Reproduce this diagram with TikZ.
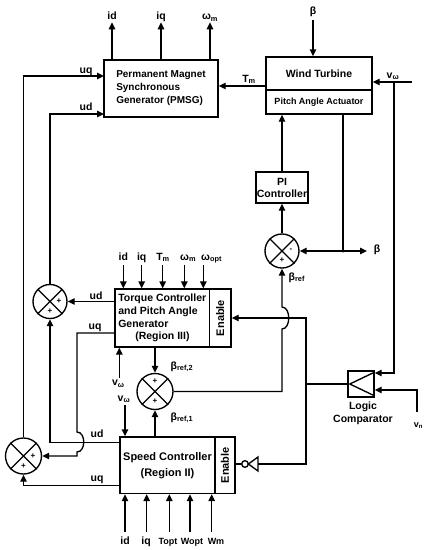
\documentclass[tikz,border=0pt]{standalone}
\usepackage{fontspec}
\setmainfont{Liberation Sans}
\usetikzlibrary{arrows.meta,calc}
\newcommand{\fsz}[2]{\fontsize{#1}{#2}\selectfont}
\begin{document}
\begin{tikzpicture}[x=1pt,y=-1pt,line width=1.35pt,
  blk/.style={draw,line width=1.35pt,inner sep=0pt,anchor=center},
  arr/.style={-{Triangle[length=7pt,width=6.5pt]}},
  sumn/.style={draw,circle,line width=1.35pt,minimum size=34pt,inner sep=0pt},
  lbl/.style={font=\bfseries\fsz{10.5}{12},inner sep=0pt,anchor=base},
  smalllbl/.style={font=\bfseries\fsz{9}{11},inner sep=0pt,anchor=base},
  sgn/.style={font=\bfseries\fsz{8}{8},inner sep=0pt}]
\useasboundingbox (0,0) rectangle (429,550);

% ---------- blocks ----------
\node[blk,minimum width=114pt,minimum height=57pt,align=left,font=\bfseries\fsz{10}{13}] (pmsg) at (161,88.5) {Permanent Magnet\\Synchronous\\Generator (PMSG)};
\node[blk,minimum width=106pt,minimum height=33pt,font=\bfseries\fsz{10.5}{12}] (wt) at (319,73.5) {Wind Turbine};
\node[blk,minimum width=106pt,minimum height=24pt,font=\bfseries\fsz{9}{11}] (pa) at (319,102) {Pitch Angle Actuator};
\node[blk,minimum width=52pt,minimum height=31pt,align=center,font=\bfseries\fsz{10.5}{12}] (pi) at (282,187.5) {PI\\Controller};
\node[sumn] (sp) at (282,251) {};
\node[blk,minimum width=94.5pt,minimum height=58pt,align=left,font=\bfseries\fsz{10.5}{12.8}] (tc) at (162.25,318) {Torque Controller\\and Pitch Angle\\Generator\\\hspace*{17pt}(Region III)};
\node[blk,minimum width=21.5pt,minimum height=58pt,font=\bfseries\fsz{11}{12}] (tcen) at (220.25,318) {\rotatebox{90}{Enable}};
\node[blk,minimum width=95pt,minimum height=56.5pt,align=center,font=\bfseries\fsz{11}{16}] (sc) at (167.5,465.25) {Speed Controller\\(Region II)};
\node[blk,minimum width=20pt,minimum height=56.5pt,font=\bfseries\fsz{11}{12}] (scen) at (225,465.25) {\rotatebox{90}{Enable}};
\node[sumn] (su) at (50,301.5) {};
\node[sumn,minimum size=36pt] (sl) at (23.5,456) {};
\node[sumn,minimum size=36pt] (sm) at (155,391.5) {};
\node[blk,minimum width=26pt,minimum height=26pt] (lc) at (361,384) {};
\node[align=center,font=\bfseries\fsz{10.5}{13},inner sep=0pt] (lcl) at (363,413) {Logic\\Comparator};

% crosses in summing junctions
\foreach \s in {sp,su,sl,sm}{
  \draw (\s.north west) -- (\s.south east) (\s.north east) -- (\s.south west);
}
\node[sgn] (sp1) at ($(sp)+(9,-0.5)$) {-};
\node[sgn] (sp2) at ($(sp)+(0,9.5)$) {+};
\node[sgn] (su1) at ($(su)+(9,0)$) {+};
\node[sgn] (su2) at ($(su)+(0,9.5)$) {+};
\node[sgn] (sl1) at ($(sl)+(9.5,0)$) {+};
\node[sgn] (sl2) at ($(sl)+(0,10)$) {+};
\node[sgn] (sm1) at ($(sm)+(0,-10)$) {+};
\node[sgn] (sm2) at ($(sm)+(0,10)$) {+};

% comparator symbol
\draw ($(lc.north east)+(-1.5,2.5)$) -- ($(lc.west)+(2.5,0)$) -- ($(lc.south east)+(-1.5,-2.5)$);

% ---------- PMSG outputs ----------
\node[lbl] (oid) at (112,19.5) {id};
\node[lbl] (oiq) at (161,19.5) {iq};
\node[lbl] (owm) at (210,19.5) {ω\textsubscript{m}};
\draw[arr] (pmsg.north -| oid) -- ++(0,-37);
\draw[arr] (pmsg.north -| oiq) -- ++(0,-37);
\draw[arr] (pmsg.north -| owm) -- ++(0,-37);

% ---------- wind turbine ----------
\node[lbl] (btop) at (313,14) {β};
\coordinate (bst) at (313,20);
\draw[arr] (bst) -- (wt.north -| bst);
\node[lbl] (ltm) at (249,82) {T\textsubscript{m}};
\coordinate (tmc) at (266,86);
\draw[arr] (tmc) -- (pmsg.east |- tmc);
\node[lbl] (lvw) at (393,78) {v\textsubscript{ω}};
\coordinate (vwin) at (412,82);
\coordinate (vwj) at (394,82);
\coordinate (lcin1) at (394,373);
\draw[arr] (vwin) -- (wt.east |- vwin);
\draw[arr] (vwj) -- (lcin1) -- (lc.east |- lcin1);
\coordinate (vnin) at (417,412);
\coordinate (lcin2) at (417,390);
\draw[arr] (vnin) -- (lcin2) -- (lc.east |- lcin2);
\node[smalllbl] (lvn) at (418.5,427) {v\textsubscript{n}};

% ---------- pitch loop ----------
\draw[arr] (pi.north) -- (pa.south -| pi.north);
\draw[arr] (sp.north) -- (pi.south);
\coordinate (bj) at (343,251);
\coordinate (bout) at (367,251);
\draw (pa.south -| bj) -- (bj);
\fill (bj) circle (1.6);
\draw[arr] (bj) -- (sp.east);
\draw[arr] (bj) -- (bout);
\node[lbl] (lbr) at (377,252.5) {β};
\node[lbl,anchor=base west] (lbref) at (288,280) {β\textsubscript{ref}};

% ---------- torque controller inputs ----------
\node[lbl] (tid) at (123.3,260) {id};
\node[lbl] (tiq) at (141.7,260) {iq};
\node[lbl] (ttm) at (163,260) {T\textsubscript{m}};
\node[lbl,anchor=base west] (twm) at (179.5,260) {ω\textsubscript{m}};
\node[lbl,anchor=base west] (two) at (200.5,260) {ω\textsubscript{opt}};
\foreach \x [count=\i] in {123.3,141.7,162.7,184.3,203.3}{
  \coordinate (ti\i) at (\x,265);
  \draw[arr] (ti\i) -- (ti\i |- tc.north);
}

% ---------- torque controller outputs ----------
\draw[arr] (tc.west |- su) -- (su.east);
\node[lbl] (ltud) at (96,299) {ud};
\coordinate (uqb) at (77,333);
\draw[arr] (tc.west |- uqb) -- (uqb) -- (77,432) .. controls (86,432) and (86,452) .. (77,452) -- (77,456) -- (sl.east);
\node[lbl] (ltuq) at (95,329) {uq};

% summing junctions to PMSG
\coordinate (pud) at (104,114);
\coordinate (puq) at (104,76);
\draw[arr] (su.north) -- (su.north |- pud) -- (pud);
\node[lbl] (lpud) at (86,110) {ud};
\draw[arr] (sl.north) -- (sl.north |- puq) -- (puq);
\node[lbl] (lpuq) at (86,73.5) {uq};

% ---------- wind speed inputs ----------
\coordinate (v1) at (119.3,378);
\draw[arr] (v1) -- (v1 |- tc.south);
\node[lbl] (lv1) at (118.3,385.5) {v\textsubscript{ω}};
\coordinate (v2) at (125,405);
\draw[arr] (v2) -- (v2 |- sc.north);
\node[lbl] (lv2) at (124,401) {v\textsubscript{ω}};

% ---------- beta references ----------
\draw[arr] (tc.south -| sm) -- (sm.north);
\draw[arr] (sc.north -| sm) -- (sm.south);
\node[lbl,anchor=base west] (lb2) at (170,369) {β\textsubscript{ref,2}};
\node[lbl,anchor=base west] (lb1) at (170,420) {β\textsubscript{ref,1}};
\draw[arr] (sm.east) -- (282,391.5) -- (282,329) .. controls (291,329) and (291,307) .. (282,307) -- (sp.south);

% ---------- enable logic ----------
\coordinate (jn) at (306,384);
\coordinate (notin) at (258,464);
\draw[arr] (lc.west) -- (jn) |- (tcen.east);
\draw (jn) |- (notin);
\draw (258,457) -- (258,471) -- (248.4,464) -- cycle;
\node[circle,draw,minimum size=6.6pt,inner sep=0pt] (bub) at (245,464) {};
\draw (bub.west) -- (bub.west -| scen.east);

% ---------- speed controller outputs ----------
\coordinate (sud) at (120,442.3);
\draw[arr] (sud) -- (su.south |- sud) -- (su.south);
\node[lbl] (lsud) at (97,437) {ud};
\coordinate (suq) at (120,485.7);
\draw[arr] (suq) -| (sl.south);
\node[lbl] (lsuq) at (97,481) {uq};

% ---------- speed controller inputs ----------
\foreach \x [count=\i] in {125,146.7,169.3,190,211.7}{
  \coordinate (si\i) at (\x,532);
  \draw[arr] (si\i) -- (si\i |- sc.south);
}
\node[lbl] (sid) at (125,544) {id};
\node[lbl] (siq) at (146,544) {iq};
\node[smalllbl] (stopt) at (168,544) {Topt};
\node[smalllbl] (swopt) at (192,544) {Wopt};
\node[smalllbl] (swm) at (216,544) {Wm};
\end{tikzpicture}
\end{document}
